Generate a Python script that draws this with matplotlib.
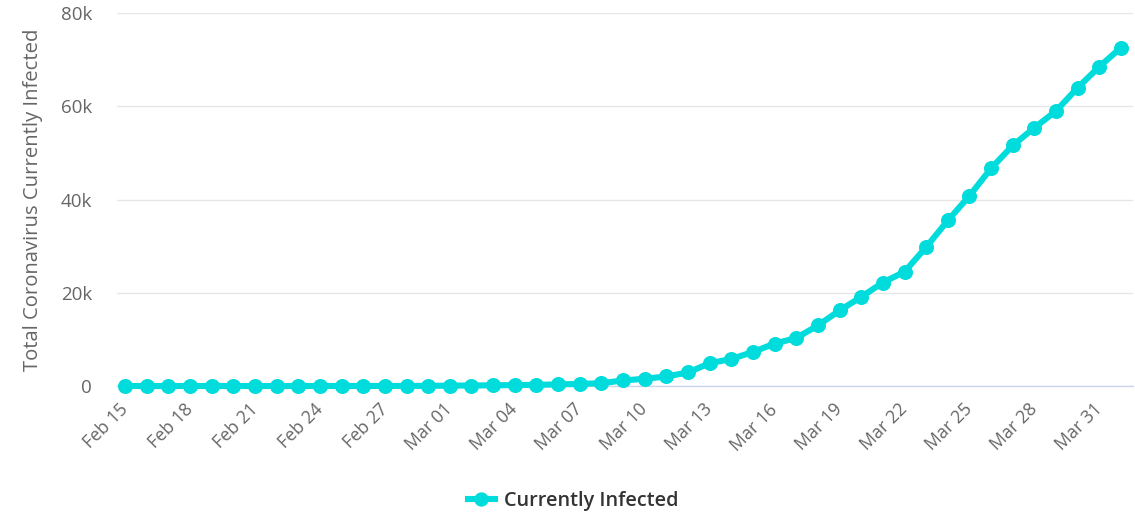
import pandas as pd
import matplotlib.pyplot as plt

# Currently infected, Feb 15 .. Apr 1 (one value per day)
dates = pd.date_range("2020-02-15", "2020-04-01", freq="D")
infected = [
    2, 2, 2, 2, 2, 2, 2, 2, 2, 2,              # Feb 15 - Feb 24
    4, 11, 13, 23, 30,                         # Feb 25 - Feb 29
    80, 110, 150, 200, 250, 350, 450, 600,     # Mar 01 - Mar 08
    1200, 1550, 2050, 2900, 4900, 5800, 7300,  # Mar 09 - Mar 15
    9100, 10300, 13000, 16200, 19100, 22200,   # Mar 16 - Mar 21
    24500, 29800, 35500, 40800, 46700, 51600,  # Mar 22 - Mar 27
    55400, 59000, 64000, 68500, 72600,         # Mar 28 - Apr 01
]
tick_labels = [d.strftime("%b %d").replace("Feb 0", "Feb ") for d in dates]
y_ticks = [0, 20000, 40000, 60000, 80000]
y_tick_labels = ["0", "20k", "40k", "60k", "80k"]

plt.rcParams["font.family"] = ["Open Sans", "DejaVu Sans"]

fig = plt.figure(figsize=(11.35, 5.16), dpi=100)
ax = fig.add_axes([0.1031, 0.2519, 0.8951, 0.7229])

x = list(range(len(dates)))
ax.plot(x, infected, color="#00dcdc", linewidth=4.4, marker="o",
        markersize=9.8, label="Currently Infected", zorder=3, clip_on=False)

ax.set_xlim(-0.37, len(dates) - 1 + 0.55)
ax.set_ylim(0, 80000)
ax.set_yticks(y_ticks)
ax.set_yticklabels(y_tick_labels, fontsize=13.5, color="#666666")
ax.grid(axis="y", color="#e6e6e6", linewidth=1)
ax.set_axisbelow(True)

ax.set_xticks(x[::3])
ax.set_xticklabels(tick_labels[::3], fontsize=12.8, color="#666666",
                   rotation=45, ha="right", va="center", rotation_mode="anchor")
ax.tick_params(axis="x", length=0, pad=15)
ax.tick_params(axis="y", length=0, pad=18)

for side in ["top", "right", "left"]:
    ax.spines[side].set_visible(False)
ax.spines["bottom"].set_color("#ccd6eb")
ax.spines["bottom"].set_linewidth(1)

ax.set_ylabel("Total Coronavirus Currently Infected", fontsize=14.6,
              color="#666666")
ax.yaxis.set_label_coords(-0.073, 0.5)

fig.legend(loc="center", bbox_to_anchor=(0.505, 0.03), frameon=False,
           prop={"size": 14.3, "weight": "semibold"}, labelcolor="#333333",
           handlelength=1.4, handletextpad=0.45, markerscale=0.95)

plt.savefig("out.png", dpi=100)
plt.close()
